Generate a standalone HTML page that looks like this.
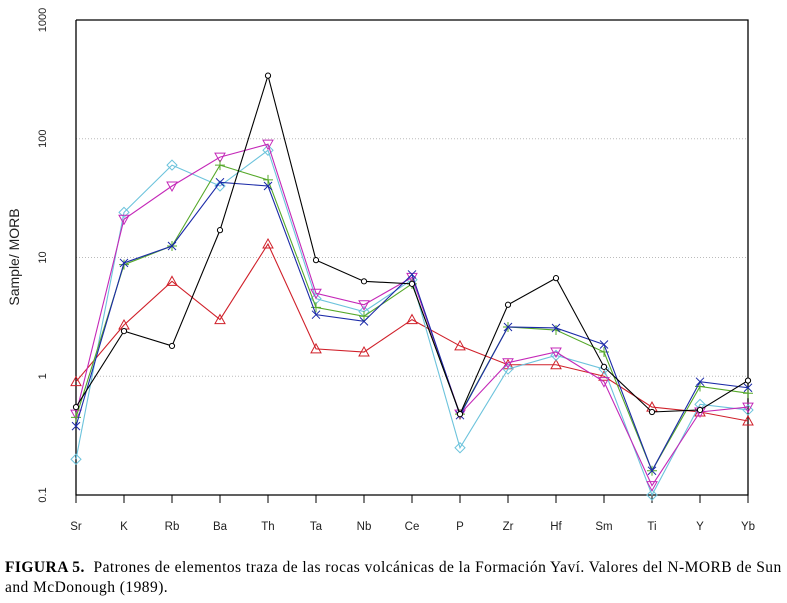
<!DOCTYPE html>
<html><head><meta charset="utf-8"><style>
body{margin:0;background:#fff;width:787px;height:603px;overflow:hidden}
.cap{position:absolute;left:5px;top:558px;width:790px;white-space:nowrap;font-family:"Liberation Serif",serif;font-size:15.5px;letter-spacing:0.45px;line-height:20px;color:#000}
</style></head><body>
<svg id="chart" width="787" height="555" style="position:absolute;left:0;top:0" font-family="Liberation Sans, sans-serif"></svg>
<div class="cap"><b>FIGURA 5.</b>&nbsp; Patrones de elementos traza de las rocas volcánicas de la Formación Yaví. Valores del N-MORB de Sun<br>and McDonough (1989).</div>
<script>
const categories=["Sr","K","Rb","Ba","Th","Ta","Nb","Ce","P","Zr","Hf","Sm","Ti","Y","Yb"];
const yTicks=[0.1,1,10,100,1000];
const yTickLabels=["0.1","1","10","100","1000"];
const sBlack=[0.55,2.4,1.8,17,340,9.5,6.3,6.0,0.48,4.0,6.7,1.2,0.5,0.52,0.92];
const sRed=[0.9,2.7,6.3,3.0,13,1.7,1.6,3.0,1.8,1.25,1.25,1.0,0.55,0.5,0.42];
const sGreen=[0.45,8.7,12.5,60,45,3.8,3.2,6.0,0.48,2.6,2.45,1.6,0.16,0.82,0.72];
const sBlue=[0.38,9,12.5,43,40,3.3,2.9,7.2,0.47,2.6,2.55,1.85,0.16,0.9,0.8];
const sCyan=[0.2,24,60,40,80,4.5,3.5,6.5,0.25,1.15,1.5,1.15,0.1,0.58,0.52];
const sMagenta=[0.48,21,40,70,90,5.0,4.0,6.8,0.48,1.3,1.6,0.9,0.12,0.5,0.55];
const NS="http://www.w3.org/2000/svg";
const svg=document.getElementById("chart");
const X0=76,X1=748,Y0=495,Y1=20;
const xs=i=>X0+i*(X1-X0)/(categories.length-1);
const ys=v=>Y0-(Math.log10(v)+1)*(Y0-Y1)/4;
function mk(t,a,p){const e=document.createElementNS(NS,t);for(const k in a)e.setAttribute(k,a[k]);(p||svg).appendChild(e);return e;}
yTicks.slice(1,4).forEach(v=>{const g=mk("line",{x1:X0,x2:X1,y1:ys(v),y2:ys(v),stroke:"#bbb","stroke-dasharray":"1,2"});

});
const ax=mk("path",{d:`M${X0} ${Y1}V${Y0}H${X1}V${Y1}H${X0}`,fill:"none",stroke:"#000","stroke-width":1.3});


yTicks.forEach((v,i)=>{const y=ys(v);
const t=mk("text",{x:0,y:0,transform:`translate(46,${y}) rotate(-90)`,"text-anchor":"middle","font-size":11,fill:"#222"});t.textContent=yTickLabels[i];

});
categories.forEach((c,i)=>{const x=xs(i);
mk("line",{x1:x,x2:x,y1:Y0,y2:Y0+8,stroke:"#000"});
const t=mk("text",{x:x,y:530,"text-anchor":"middle","font-size":11.5,fill:"#222"});t.textContent=c;

});
const yt=mk("text",{x:0,y:0,transform:"translate(19,257) rotate(-90)","text-anchor":"middle","font-size":14,fill:"#222"});yt.textContent="Sample/ MORB";


function marker(type,x,y,col,g){
 if(type==="circle")mk("circle",{cx:x,cy:y,r:2.6,fill:"#fff",stroke:col},g);
 else if(type==="up")mk("path",{d:`M${x} ${y-5}L${x+5} ${y+4}L${x-5} ${y+4}Z`,fill:"none",stroke:col},g);
 else if(type==="down")mk("path",{d:`M${x} ${y+5}L${x+5} ${y-4}L${x-5} ${y-4}Z`,fill:"none",stroke:col},g);
 else if(type==="plus")mk("path",{d:`M${x-5} ${y}H${x+5}M${x} ${y-5}V${y+5}`,stroke:col},g);
 else if(type==="x")mk("path",{d:`M${x-4} ${y-4}L${x+4} ${y+4}M${x+4} ${y-4}L${x-4} ${y+4}`,stroke:col},g);
 else if(type==="diamond")mk("path",{d:`M${x} ${y-5}L${x+5} ${y}L${x} ${y+5}L${x-5} ${y}Z`,fill:"none",stroke:col},g);
}
const series=[[sRed,"#d0202a","up","series-red"],[sCyan,"#6cc3dc","diamond","series-cyan"],[sMagenta,"#c428b8","down","series-magenta"],[sGreen,"#55a829","plus","series-green"],[sBlue,"#1b2aa8","x","series-blue"],[sBlack,"#000","circle","series-black"]];
series.forEach(([vals,col,type,name])=>{
 const g=mk("g",{});
 
 
 mk("polyline",{points:vals.map((v,i)=>xs(i)+","+ys(v)).join(" "),fill:"none",stroke:col,"stroke-width":1.1},g);
 vals.forEach((v,i)=>marker(type,xs(i),ys(v),col,g));
});
</script>
</body></html>
